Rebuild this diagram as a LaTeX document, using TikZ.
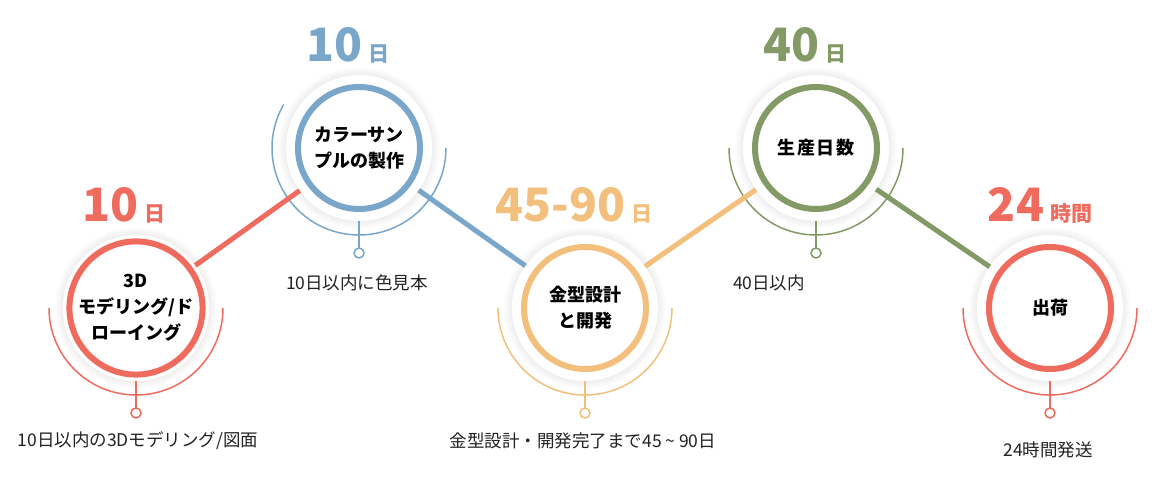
\documentclass[tikz,border=0pt]{standalone}
\usepackage{fontspec}
\setmainfont{Noto Sans CJK JP}
\newfontfamily\heavyfont{Noto Sans CJK JP Black}
\definecolor{cRed}{HTML}{EE6B5E}
\definecolor{cBlue}{HTML}{7AA6CA}
\definecolor{cOrange}{HTML}{F3BF7C}
\definecolor{cGreen}{HTML}{839A66}
\definecolor{txt}{HTML}{222222}
\begin{document}
\begin{tikzpicture}[x=1pt,y=1pt,
 halo/.style={circle, fill=white, minimum size=146pt, inner sep=0pt, outer sep=0pt},
 ring/.style={circle, draw=#1, line width=6pt, minimum size=122pt, inner sep=0pt, align=center, font=\fontsize{18}{26}\selectfont\bfseries, text=black},
 conn/.style={line width=5pt, draw=#1},
 guide/.style={line width=1.5pt, draw=#1},
 dot/.style={circle, draw=#1, line width=1.5pt, fill=white, minimum size=10pt, inner sep=0pt, outer sep=0pt},
 ttl/.style={anchor=base, text=#1, font=\heavyfont},
 desc/.style={font=\fontsize{17.5}{20}\selectfont, text=txt},
]
\useasboundingbox (0,0) rectangle (1170,500);
\fill[white] (0,0) rectangle (1170,500);

% centres
\coordinate (p1) at (136,192);
\coordinate (p2) at (359,352);
\coordinate (p3) at (585,192);
\coordinate (p4) at (816,352);
\coordinate (p5) at (1050,192);

% outer guide arcs
\draw[guide=cRed] ([shift={(180:87)}]p1) arc[start angle=180, end angle=360, radius=87];
\draw[guide=cBlue] ([shift={(150:87)}]p2) arc[start angle=150, end angle=360, radius=87];
\draw[guide=cOrange] ([shift={(180:87)}]p3) arc[start angle=180, end angle=360, radius=87];
\draw[guide=cGreen] ([shift={(180:87)}]p4) arc[start angle=180, end angle=360, radius=87];
\draw[guide=cRed] ([shift={(180:87)}]p5) arc[start angle=180, end angle=360, radius=87];

% soft shadows
\foreach \p in {p1,p2,p3,p4,p5}{
  \foreach \r in {74,75,76,77,78,79,80,81}{
    \fill[black, opacity=0.007] (\p) circle (\r);
  }
}

% halos
\node[halo] (h1) at (p1) {};
\node[halo] (h2) at (p2) {};
\node[halo] (h3) at (p3) {};
\node[halo] (h4) at (p4) {};
\node[halo] (h5) at (p5) {};

% connectors
\draw[conn=cRed] (h1) -- (h2);
\draw[conn=cBlue] (h2) -- (h3);
\draw[conn=cOrange] (h3) -- (h4);
\draw[conn=cGreen] (h4) -- (h5);

% stems and dots
\node[dot=cRed] (o1) at (136,87) {};
\node[dot=cBlue] (o2) at (359,247) {};
\node[dot=cOrange] (o3) at (585,87) {};
\node[dot=cGreen] (o4) at (816,247) {};
\node[dot=cRed] (o5) at (1050,87) {};
\draw[guide=cRed] (h1.south) -- (o1.north);
\draw[guide=cBlue] (h2.south) -- (o2.north);
\draw[guide=cOrange] (h3.south) -- (o3.north);
\draw[guide=cGreen] (h4.south) -- (o4.north);
\draw[guide=cRed] (h5.south) -- (o5.north);

% rings with labels
\node[ring=cRed] (r1) at (h1) {3D\\モデリング/ド\\ローイング};
\node[ring=cBlue] (r2) at (h2) {カラーサン\\プルの製作};
\node[ring=cOrange] (r3) at (h3) {金型設計\\と開発};
\node[ring=cGreen] (r4) at (h4) {\addfontfeature{LetterSpace=10}生産日数};
\node[ring=cRed] (r5) at (h5) {出荷};

% titles
\node[ttl=cRed] (t1) at (124,278) {\fontsize{46}{46}\selectfont 10\hspace{6pt}\fontsize{21}{21}\selectfont 日};
\node[ttl=cBlue] (t2) at (348,438) {\fontsize{46}{46}\selectfont 10\hspace{6pt}\fontsize{21}{21}\selectfont 日};
\node[ttl=cOrange] (t3) at (574,278) {\fontsize{46}{46}\selectfont 45-90\hspace{6pt}\fontsize{21}{21}\selectfont 日};
\node[ttl=cGreen] (t4) at (805,438) {\fontsize{46}{46}\selectfont 40\hspace{6pt}\fontsize{21}{21}\selectfont 日};
\node[ttl=cRed] (t5) at (1040,278) {\fontsize{46}{46}\selectfont 24\hspace{6pt}\fontsize{21}{21}\selectfont 時間};

% descriptions
\node[desc] (d1) at (138,59) {10日以内の3Dモデリング/図面};
\node[desc] (d2) at (357,217) {10日以内に色見本};
\node[desc] (d3) at (583,59) {金型設計・開発完了まで45 \symbol{"7E} 90日};
\node[desc] (d4) at (769,217) {40日以内};
\node[desc] (d5) at (1048,50) {24時間発送};
\end{tikzpicture}
\end{document}
